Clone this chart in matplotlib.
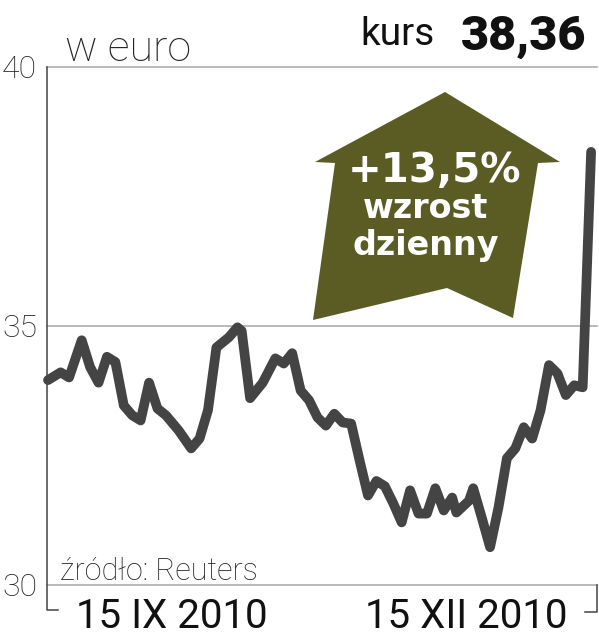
import matplotlib.pyplot as plt
from matplotlib.patches import Polygon
from matplotlib.lines import Line2D

# sessions counted from the first point on the chart
days = [0, 3, 5, 8, 10, 12, 14, 16, 18, 20, 22, 24, 26, 28, 31, 34, 36, 38, 40, 43,
        45, 46, 48, 51, 54, 56, 58, 60, 62, 64, 66, 68, 70, 72, 74, 76, 78, 80, 82, 84,
        86, 88, 90, 92, 94, 96, 97, 100, 101, 103, 105, 107, 109, 111, 113, 115, 117,
        119, 121, 123, 125, 127, 129]
price = [33.95, 34.10, 34.00, 34.72, 34.20, 33.90, 34.40, 34.30, 33.46, 33.27, 33.17,
         33.90, 33.40, 33.27, 32.98, 32.63, 32.82, 33.37, 34.58, 34.78, 34.97, 34.90,
         33.60, 33.90, 34.37, 34.27, 34.47, 33.75, 33.56, 33.23, 33.07, 33.30, 33.13,
         33.11, 32.40, 31.72, 32.00, 31.90, 31.57, 31.20, 31.82, 31.37, 31.37, 31.86,
         31.43, 31.68, 31.39, 31.62, 31.86, 31.30, 30.72, 31.49, 32.44, 32.63, 33.04,
         32.82, 33.37, 34.24, 34.08, 33.66, 33.85, 33.81, 38.36]
y_ticks = [30, 35, 40]
x_labels = ['15 IX 2010', '15 XII 2010']

W, H = 599, 640
fig = plt.figure(figsize=(W / 100, H / 100), dpi=100)


def px(x, y):
    return x / W, 1 - y / H


left, right, top, bottom = 47, 597, 67, 584.5
ax = fig.add_axes([left / W, 1 - bottom / H, (right - left) / W, (bottom - top) / H])
ax.set_ylim(30, 40)
ax.set_xlim(-0.24, 130.4)

for v in y_ticks:
    ax.axhline(v, color='#a6a6a6', lw=1.1, zorder=1, clip_on=False)

ax.plot(days, price, color='#444444', lw=7, solid_joinstyle='round',
        solid_capstyle='round', zorder=3, clip_on=False)

for s in ['top', 'right', 'bottom', 'left']:
    ax.spines[s].set_visible(False)
ax.set_xticks([])
ax.set_yticks(y_ticks)
ax.set_yticklabels([str(v) for v in y_ticks], fontsize=23, family='Roboto',
                   fontweight='light', color='#222222')
ax.tick_params(axis='y', length=0, pad=7)

# brackets of the time axis
ax.add_line(Line2D([0, 0, 0.02], [1, -0.049, -0.049], color='#444444', lw=1.1,
                   transform=ax.transAxes, clip_on=False))
ax.add_line(Line2D([1, 1, 0.978], [0, -0.053, -0.053], color='#444444', lw=1.1,
                   transform=ax.transAxes, clip_on=False))

fig.text(*px(65, 61), 'w euro', fontsize=31, family='Roboto', fontweight='light',
         color='#222222', va='baseline')
fig.text(*px(60, 580), 'źródło: Reuters', fontsize=22, family='Roboto',
         fontweight='light', color='#222222', va='baseline')
fig.text(*px(360, 45), 'kurs', fontsize=28, family='Roboto', color='#111111',
         va='baseline')
fig.text(*px(586, 50), '38,36', fontsize=35, family='Roboto', fontweight='heavy',
         color='#111111', va='baseline', ha='right')

fig.text(*px(172, 628), x_labels[0], fontsize=29, family='Roboto', color='#111111',
         va='baseline', ha='center')
fig.text(*px(466, 628), x_labels[1], fontsize=29, family='Roboto', color='#111111',
         va='baseline', ha='center')

arrow = [(445, 92), (560, 162), (538, 163), (513, 318), (447, 288), (313, 320),
         (335, 163), (315, 162)]
fig.patches.append(Polygon([px(*p) for p in arrow], closed=True, facecolor='#5a5c24',
                           edgecolor='none', transform=fig.transFigure, zorder=2))
fig.text(*px(434, 182), '+13,5%', fontsize=29, family='DejaVu Sans',
         fontweight='bold', color='white', va='baseline', ha='center', zorder=4)
fig.text(*px(426, 218), 'wzrost', fontsize=24, family='DejaVu Sans',
         fontweight='bold', color='white', va='baseline', ha='center', zorder=4)
fig.text(*px(426, 255), 'dzienny', fontsize=24, family='DejaVu Sans',
         fontweight='bold', color='white', va='baseline', ha='center', zorder=4)

fig.savefig('out.png', dpi=100)
